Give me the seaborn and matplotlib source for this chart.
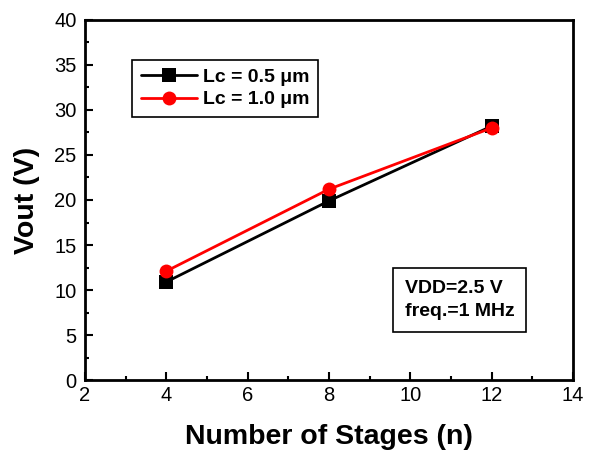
import matplotlib
matplotlib.use("Agg")
import matplotlib.pyplot as plt
import seaborn as sns
import pandas as pd
from matplotlib.ticker import MultipleLocator

stages = [4, 8, 12]
vout_05 = [10.9, 19.9, 28.2]
vout_10 = [12.1, 21.2, 28.0]
series_names = ["Lc = 0.5 \u03bcm", "Lc = 1.0 \u03bcm"]

df = pd.concat([
    pd.DataFrame({"n": stages, "Vout": vout_05, "s": series_names[0]}),
    pd.DataFrame({"n": stages, "Vout": vout_10, "s": series_names[1]}),
])

sns.set_theme(style="white")
plt.rcParams["font.family"] = ["Liberation Sans", "DejaVu Sans"]
plt.rcParams["text.color"] = "black"
plt.rcParams["axes.labelcolor"] = "black"

fig = plt.figure(figsize=(5.9, 4.53), dpi=100)
ax = fig.add_axes([0.144, 0.161, 0.827, 0.795])

sns.lineplot(data=df, x="n", y="Vout", hue="s", style="s",
             palette={series_names[0]: "black", series_names[1]: "red"},
             markers={series_names[0]: "s", series_names[1]: "o"},
             dashes=False, markersize=10, linewidth=2, markeredgewidth=0,
             ax=ax)

ax.set_xlim(2, 14)
ax.set_ylim(0, 40)
ax.xaxis.set_major_locator(MultipleLocator(2))
ax.xaxis.set_minor_locator(MultipleLocator(1))
ax.yaxis.set_major_locator(MultipleLocator(5))
ax.yaxis.set_minor_locator(MultipleLocator(2.5))
ax.tick_params(which="both", direction="in", top=False, right=False,
               bottom=True, left=True, labelsize=14.5, colors="black")
ax.tick_params(axis="x", which="both", pad=4)
ax.tick_params(axis="y", which="both", pad=6)
ax.tick_params(which="major", length=6, width=1.5)
ax.tick_params(which="minor", length=3, width=1.5)
for sp in ax.spines.values():
    sp.set_visible(True)
    sp.set_color("black")
    sp.set_linewidth(2)

ax.set_xlabel("Number of Stages (n)", fontsize=20.5, fontweight="bold",
              labelpad=14, color="black")
ax.set_ylabel("Vout (V)", fontsize=20.5, fontweight="bold", labelpad=10,
              color="black")

leg = ax.legend(loc="upper left", bbox_to_anchor=(0.076, 0.917), frameon=True,
                fancybox=False, edgecolor="black", framealpha=1,
                prop={"weight": "bold", "size": 14}, handlelength=2.9,
                borderpad=0.45, labelspacing=0.25, handletextpad=0.3)
leg.get_frame().set_linewidth(1.2)
for t in leg.get_texts():
    t.set_color("black")

ax.text(0.655, 0.222, "VDD=2.5 V\nfreq.=1 MHz", transform=ax.transAxes,
        fontsize=14, fontweight="bold", va="center", ha="left", linespacing=1.5,
        color="black",
        bbox=dict(boxstyle="square,pad=0.6", fc="white", ec="black", lw=1.2))

fig.savefig("out.png", dpi=100)
